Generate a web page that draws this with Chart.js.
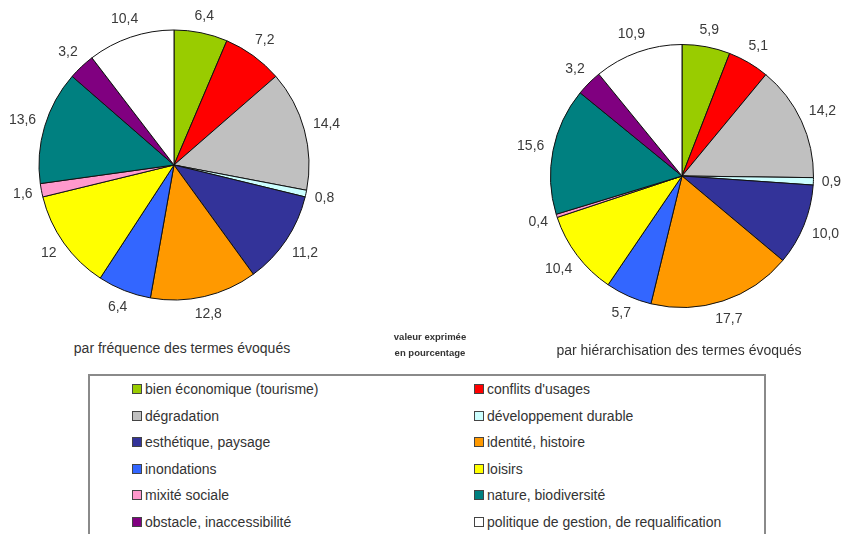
<!DOCTYPE html>
<html lang="fr">
<head>
<meta charset="utf-8">
<script src="https://cdn.jsdelivr.net/npm/chart.js@4.4.0/dist/chart.umd.min.js"></script>
<style>
    html, body { margin: 0; padding: 0; background: #fff; }
    body { width: 842px; height: 534px; position: relative; overflow: hidden;
           font-family: 'Liberation Sans', Arial, sans-serif; color: #333; }
    canvas { position: absolute; }
    #pieFreq { left: 4px; top: -5px; }
    #pieRank { left: 512px; top: 6px; }
    .title { position: absolute; font-size: 14px; white-space: nowrap; transform: translate(-50%, -50%); }
    .note { position: absolute; left: 430px; top: 337px; transform: translate(-50%, -50%);
            font-size: 9.5px; font-weight: bold; color: #333; text-align: center; line-height: 16px; }
    #legend { position: absolute; left: 88px; top: 374px; width: 678px; height: 180px;
              border: 2px solid #8a8a8a; box-sizing: border-box; }
    .item { position: absolute; font-size: 14px; color: #333; white-space: nowrap; line-height: 16px; }
    .item span { display: inline-block; width: 8px; height: 8px; border: 1px solid #444;
                 margin-right: 3px; vertical-align: 0px; }
</style>
</head>
<body>
<canvas id="pieFreq" width="340" height="340"></canvas>
<canvas id="pieRank" width="340" height="340"></canvas>
<div class="title" style="left:182px; top:348px;">par fréquence des termes évoqués</div>
<div class="title" style="left:679px; top:350px;">par hiérarchisation des termes évoqués</div>
<div class="note" style="top:345px;">valeur exprimée<br>en pourcentage</div>
<div id="legend"></div>

<script>
// catégories (ordre de la légende et des parts)
const categories = [
    'bien économique (tourisme)', 'conflits d\'usages', 'dégradation', 'développement durable',
    'esthétique, paysage', 'identité, histoire', 'inondations', 'loisirs',
    'mixité sociale', 'nature, biodiversité', 'obstacle, inaccessibilité',
    'politique de gestion, de requalification'
];

// valeurs en pourcentage
const frequencyValues = [6.4, 7.2, 14.4, 0.8, 11.2, 12.8, 6.4, 12, 1.6, 13.6, 3.2, 10.4];
const rankingValues = [5.9, 5.1, 14.2, 0.9, 10.0, 17.7, 5.7, 10.4, 0.4, 15.6, 3.2, 10.9];

const sliceColors = [
    '#99cc00', '#ff0000', '#c0c0c0', '#ccffff', '#333399', '#ff9900',
    '#3366ff', '#ffff00', '#ff99cc', '#008080', '#800080', '#ffffff'
];

// étiquettes à l'extérieur des parts
const outsideLabels = {
    id: 'outsideLabels',
    afterDatasetsDraw(chart, args, opts) {
        const ctx = chart.ctx;
        const meta = chart.getDatasetMeta(0);
        ctx.save();
        ctx.font = "14px 'Liberation Sans', Arial, sans-serif";
        ctx.fillStyle = '#3a3a3a';
        ctx.textAlign = 'center';
        ctx.textBaseline = 'middle';
        meta.data.forEach((arc, i) => {
            const p = arc.getProps(['x', 'y', 'startAngle', 'endAngle', 'outerRadius'], true);
            const mid = (p.startAngle + p.endAngle) / 2;
            const text = opts.format(chart.data.datasets[0].data[i]);
            const w = ctx.measureText(text).width;
            const cos = Math.cos(mid), sin = Math.sin(mid);
            const d = p.outerRadius + 8 + Math.abs(cos) * w / 2 + Math.abs(sin) * 7;
            ctx.fillText(text, p.x + cos * d, p.y + sin * d);
        });
        ctx.restore();
    }
};

function makePie(id, values, pad, format) {
    new Chart(document.getElementById(id), {
        type: 'pie',
        data: {
            labels: categories,
            datasets: [{
                data: values,
                backgroundColor: sliceColors,
                borderColor: '#111',
                borderWidth: 1
            }]
        },
        options: {
            responsive: false,
            animation: false,
            layout: { padding: pad },
            plugins: {
                legend: { display: false },
                tooltip: { enabled: false },
                outsideLabels: { format: format }
            }
        },
        plugins: [outsideLabels]
    });
}

makePie('pieFreq', frequencyValues, 34.5, v => String(v).replace('.', ','));
makePie('pieRank', rankingValues, 38, v => v.toFixed(1).replace('.', ','));

// légende
const legend = document.getElementById('legend');
categories.forEach((name, i) => {
    const col = i % 2, row = Math.floor(i / 2);
    const div = document.createElement('div');
    div.className = 'item';
    div.style.left = (col === 0 ? 42 : 384) + 'px';
    div.style.top = (5 + row * 26.6) + 'px';
    div.innerHTML = '<span style="background:' + sliceColors[i] + '"></span>' + name;
    legend.appendChild(div);
});
</script>
</body>
</html>
